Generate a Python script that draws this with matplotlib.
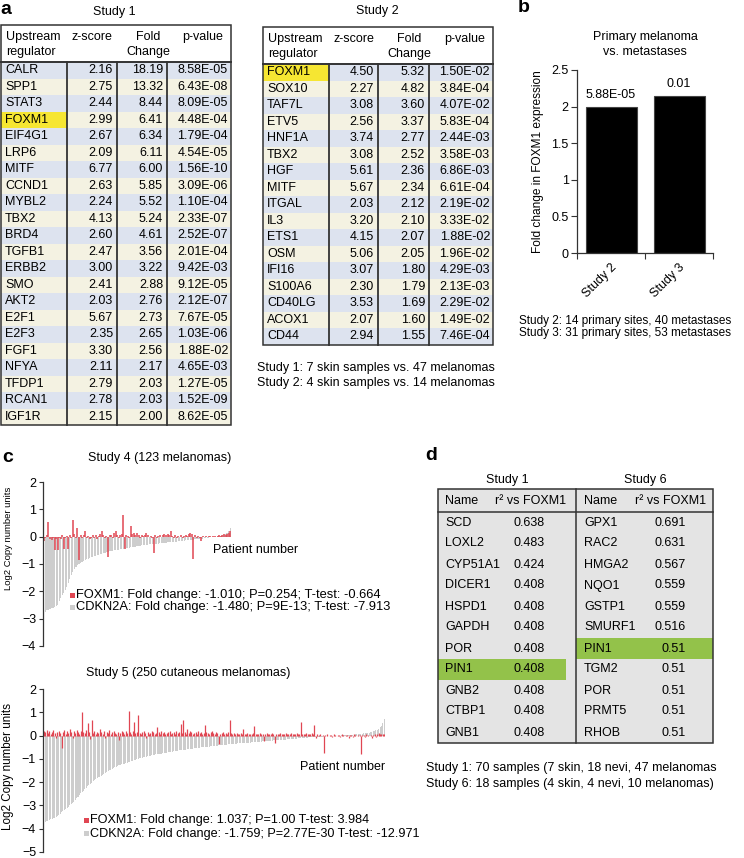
import matplotlib
matplotlib.use("Agg")
import matplotlib.pyplot as plt
from matplotlib.patches import Rectangle
import numpy as np

plt.rcParams['font.family'] = ['Liberation Sans', 'DejaVu Sans']
plt.rcParams['font.size'] = 9

# --- panel a: upstream regulators ---
study1_genes = ['CALR', 'SPP1', 'STAT3', 'FOXM1', 'EIF4G1', 'LRP6', 'MITF', 'CCND1', 'MYBL2', 'TBX2', 'BRD4',
                'TGFB1', 'ERBB2', 'SMO', 'AKT2', 'E2F1', 'E2F3', 'FGF1', 'NFYA', 'TFDP1', 'RCAN1', 'IGF1R']
study1_z = [2.16, 2.75, 2.44, 2.99, 2.67, 2.09, 6.77, 2.63, 2.24, 4.13, 2.60,
            2.47, 3.00, 2.41, 2.03, 5.67, 2.35, 3.30, 2.11, 2.79, 2.78, 2.15]
study1_fc = [18.19, 13.32, 8.44, 6.41, 6.34, 6.11, 6.00, 5.85, 5.52, 5.24, 4.61,
             3.56, 3.22, 2.88, 2.76, 2.73, 2.65, 2.56, 2.17, 2.03, 2.03, 2.00]
study1_p = ['8.58E-05', '6.43E-08', '8.09E-05', '4.48E-04', '1.79E-04', '4.54E-05', '1.56E-10', '3.09E-06',
            '1.10E-04', '2.33E-07', '2.52E-07', '2.01E-04', '9.42E-03', '9.12E-05', '2.12E-07', '7.67E-05',
            '1.03E-06', '1.88E-02', '4.65E-03', '1.27E-05', '1.52E-09', '8.62E-05']

study2_genes = ['FOXM1', 'SOX10', 'TAF7L', 'ETV5', 'HNF1A', 'TBX2', 'HGF', 'MITF', 'ITGAL', 'IL3', 'ETS1',
                'OSM', 'IFI16', 'S100A6', 'CD40LG', 'ACOX1', 'CD44']
study2_z = [4.50, 2.27, 3.08, 2.56, 3.74, 3.08, 5.61, 5.67, 2.03, 3.20, 4.15, 5.06, 3.07, 2.30, 3.53, 2.07, 2.94]
study2_fc = [5.32, 4.82, 3.60, 3.37, 2.77, 2.52, 2.36, 2.34, 2.12, 2.10, 2.07, 2.05, 1.80, 1.79, 1.69, 1.60, 1.55]
study2_p = ['1.50E-02', '3.84E-04', '4.07E-02', '5.83E-04', '2.44E-03', '3.58E-03', '6.86E-03', '6.61E-04',
            '2.19E-02', '3.33E-02', '1.88E-02', '1.96E-02', '4.29E-03', '2.13E-03', '2.29E-02', '1.49E-02',
            '7.46E-04']

# --- panel b ---
b_studies = ['Study 2', 'Study 3']
b_fold = [2.00, 2.15]
b_pvals = ['5.88E-05', '0.01']

# --- panel c: copy number (sorted by CDKN2A) ---
s4_cdkn2a = [-3.20, -2.75, -2.70, -2.68, -2.65, -2.62, -2.60, -2.58, -2.55, -2.50,
             -2.35, -2.25, -2.15, -2.05, -1.95, -1.85, -1.70, -1.55, -1.40, -1.28,
             -1.18, -1.10, -1.05, -1.00, -0.96, -0.92, -0.89, -0.86, -0.83, -0.80,
             -0.78, -0.76, -0.74, -0.72, -0.70, -0.68, -0.66, -0.64, -0.62, -0.60,
             -0.58, -0.56, -0.55, -0.54, -0.52, -0.51, -0.50, -0.49, -0.48, -0.47,
             -0.46, -0.45, -0.44, -0.43, -0.42, -0.41, -0.40, -0.39, -0.38, -0.37,
             -0.36, -0.35, -0.34, -0.33, -0.32, -0.31, -0.30, -0.30, -0.29, -0.28,
             -0.28, -0.27, -0.26, -0.26, -0.25, -0.25, -0.24, -0.23, -0.23, -0.22,
             -0.22, -0.21, -0.21, -0.20, -0.20, -0.19, -0.18, -0.18, -0.17, -0.17,
             -0.16, -0.16, -0.15, -0.14, -0.14, -0.13, -0.12, -0.12, -0.11, -0.10,
             -0.10, -0.09, -0.08, -0.08, -0.07, -0.06, -0.05, -0.05, -0.04, -0.03,
             -0.03, -0.02, -0.01, 0.00, 0.01, 0.02, 0.03, 0.05, 0.06, 0.08,
             0.12, 0.20, 0.30]
s4_foxm1 = [-0.15, -0.05, 0.05, 0.55, -0.08, -0.12, -0.05, -0.50, -0.10, -0.50,
            -0.05, -0.08, 0.05, -0.45, -0.05, 0.04, -0.45, 0.05, -0.06, 0.60,
            0.08, -0.05, 0.30, -0.85, 0.06, -0.04, 0.05, 0.20, -0.06, 0.04,
            -0.10, -0.05, 0.06, -0.04, 0.05, -0.08, 0.04, 0.08, 0.20, 0.05,
            -0.06, 0.04, -0.75, 0.06, 0.05, -0.05, 0.15, 0.20, 0.06, -0.04,
            0.05, 0.08, 0.80, -0.45, 0.06, 0.04, -0.05, 0.40, 0.08, 0.15,
            0.05, 0.12, 0.06, -0.04, 0.05, 0.03, 0.06, 0.15, 0.05, -0.03,
            0.04, -0.05, -0.60, 0.05, -0.04, 0.03, 0.05, -0.03, 0.06, 0.08,
            0.05, 0.10, 0.06, 0.22, 0.04, -0.05, 0.05, -0.06, 0.04, -0.03,
            0.05, -0.04, 0.03, 0.06, 0.04, 0.08, 0.15, 0.10, -0.80, 0.05,
            -0.04, 0.03, -0.05, -0.15, 0.03, -0.02, 0.02, -0.03, 0.02, 0.03,
            -0.02, 0.02, 0.03, -0.02, 0.04, 0.05, 0.03, 0.06, 0.10, 0.05,
            0.08, 0.15, 0.20]

s5_cdkn2a = [-3.75, -3.70, -3.68, -3.65, -3.62, -3.60, -3.58, -3.55, -3.52, -3.50,
             -3.45, -3.40, -3.35, -3.30, -3.25, -3.20, -3.15, -3.10, -3.05, -3.00,
             -2.95, -2.90, -2.85, -2.78, -2.70, -2.62, -2.55, -2.48, -2.42, -2.36,
             -2.30, -2.24, -2.18, -2.12, -2.07, -2.02, -1.97, -1.92, -1.88, -1.84,
             -1.80, -1.76, -1.72, -1.68, -1.64, -1.60, -1.56, -1.52, -1.49, -1.46,
             -1.43, -1.40, -1.37, -1.34, -1.31, -1.28, -1.26, -1.24, -1.22, -1.20,
             -1.18, -1.16, -1.14, -1.12, -1.10, -1.08, -1.06, -1.04, -1.02, -1.00,
             -0.98, -0.96, -0.95, -0.93, -0.92, -0.90, -0.89, -0.88, -0.86, -0.85,
             -0.84, -0.83, -0.81, -0.80, -0.79, -0.78, -0.77, -0.76, -0.75, -0.74,
             -0.73, -0.72, -0.71, -0.70, -0.69, -0.68, -0.67, -0.66, -0.65, -0.64,
             -0.63, -0.62, -0.61, -0.60, -0.60, -0.59, -0.58, -0.57, -0.56, -0.56,
             -0.55, -0.54, -0.53, -0.53, -0.52, -0.51, -0.50, -0.50, -0.49, -0.48,
             -0.48, -0.47, -0.46, -0.46, -0.45, -0.44, -0.44, -0.43, -0.42, -0.42,
             -0.41, -0.40, -0.40, -0.39, -0.39, -0.38, -0.37, -0.37, -0.36, -0.36,
             -0.35, -0.35, -0.34, -0.34, -0.33, -0.33, -0.32, -0.32, -0.31, -0.31,
             -0.30, -0.30, -0.29, -0.29, -0.28, -0.28, -0.27, -0.27, -0.26, -0.26,
             -0.25, -0.25, -0.24, -0.24, -0.23, -0.23, -0.22, -0.22, -0.21, -0.21,
             -0.20, -0.20, -0.19, -0.19, -0.18, -0.18, -0.17, -0.17, -0.16, -0.16,
             -0.15, -0.15, -0.14, -0.14, -0.13, -0.13, -0.12, -0.12, -0.11, -0.11,
             -0.10, -0.10, -0.09, -0.09, -0.08, -0.08, -0.07, -0.07, -0.06, -0.06,
             -0.05, -0.05, -0.05, -0.04, -0.04, -0.04, -0.03, -0.03, -0.03, -0.02,
             -0.02, -0.02, -0.01, -0.01, -0.01, 0.00, 0.00, 0.00, 0.01, 0.01,
             0.01, 0.02, 0.02, 0.02, 0.03, 0.03, 0.04, 0.04, 0.05, 0.05,
             0.06, 0.06, 0.07, 0.08, 0.09, 0.10, 0.11, 0.12, 0.13, 0.14,
             0.16, 0.18, 0.20, 0.23, 0.26, 0.30, 0.35, 0.42, 0.52, 0.70]
s5_foxm1 = [0.20, 0.15, 0.25, 0.10, 0.20, 0.05, 0.15, 0.25, 0.10, -0.10,
            0.15, 0.20, 0.10, -0.55, 0.15, 0.25, 0.05, 0.20, 0.10, 0.30,
            0.15, -0.10, 0.20, 0.10, 0.25, 0.15, 0.05, 0.20, 1.00, 0.15,
            0.10, 0.25, 0.55, 0.15, -0.15, 0.65, 0.10, 0.20, 0.05, 0.15,
            0.10, 0.30, 0.15, 0.05, 0.20, -0.10, 0.15, 0.10, 0.25, 0.05,
            0.15, 0.20, 0.10, 0.05, 0.15, -0.20, 0.10, 0.20, 0.15, 0.05,
            0.20, 0.10, 1.05, 0.15, 0.05, 0.20, 0.60, 0.10, 0.15, 0.90,
            0.10, 0.05, 0.15, 0.20, 0.10, -0.10, 0.15, 0.05, 0.10, 0.20,
            0.15, 0.05, 0.10, 0.35, 0.15, 0.05, 0.20, 0.10, 0.15, 0.05,
            0.10, 0.15, 0.20, 0.05, 0.10, 0.15, 0.05, 0.20, 0.10, 0.15,
            0.50, 0.10, 0.65, 0.15, 0.05, 0.30, 0.10, 0.20, 0.15, 0.05,
            0.10, 0.15, 0.05, 0.20, 0.10, 0.15, 0.05, 0.10, 0.45, 0.15,
            0.10, 0.05, 0.15, 0.20, 0.10, 0.05, 0.15, 0.10, -0.35, 0.05,
            0.10, 0.15, 0.05, 0.10, 0.05, 0.15, 0.65, 0.10, 0.05, 0.10,
            0.05, 0.10, 0.08, 0.05, 0.10, 0.05, 0.30, 0.08, 0.05, 0.10,
            0.05, 0.08, 0.05, 0.10, 0.40, 0.05, 0.08, 0.05, 0.10, 0.05,
            0.08, -0.25, 0.05, 0.10, 0.05, 0.08, 0.05, 0.10, 0.05, -0.30,
            0.05, 0.08, 0.05, 0.10, 0.05, 0.08, 0.05, 0.10, 0.05, 0.08,
            0.05, 0.10, 0.05, 0.08, 0.05, 0.10, 0.05, 0.08, 0.60, 0.05,
            0.08, 0.05, 0.10, 0.05, 0.08, 0.05, 0.10, 0.05, 0.45, -0.10,
            0.05, 0.03, 0.05, -0.03, 0.04, -0.75, 0.03, 0.05, -0.03, 0.04,
            0.03, -0.04, 0.05, 0.03, -0.03, 0.04, 0.03, -0.04, 0.05, 0.03,
            -0.03, 0.04, 0.03, -0.10, 0.04, 0.03, -0.04, 0.05, 0.03, -0.03,
            0.04, 0.03, -0.80, 0.04, 0.03, -0.04, 0.05, 0.03, -0.03, 0.04,
            -0.10, 0.03, 0.05, -0.04, 0.06, 0.10, 0.05, 0.08, 0.06, 0.05]

# --- panel d: correlation with FOXM1 ---
d1_genes = ['SCD', 'LOXL2', 'CYP51A1', 'DICER1', 'HSPD1', 'GAPDH', 'POR', 'PIN1', 'GNB2', 'CTBP1', 'GNB1']
d1_r2 = ['0.638', '0.483', '0.424', '0.408', '0.408', '0.408', '0.408', '0.408', '0.408', '0.408', '0.408']
d6_genes = ['GPX1', 'RAC2', 'HMGA2', 'NQO1', 'GSTP1', 'SMURF1', 'PIN1', 'TGM2', 'POR', 'PRMT5', 'RHOB']
d6_r2 = ['0.691', '0.631', '0.567', '0.559', '0.559', '0.516', '0.51', '0.51', '0.51', '0.51', '0.51']

W, H = 744, 858
fig = plt.figure(figsize=(W / 100, H / 100), dpi=100)

# background axes in pixel coordinates (y downwards), used for tables and text
bg = fig.add_axes([0, 0, 1, 1])
bg.set_xlim(0, W)
bg.set_ylim(H, 0)
bg.axis('off')


def px_axes(x0, y0, x1, y1):
    ax = fig.add_axes([x0 / W, 1 - y1 / H, (x1 - x0) / W, (y1 - y0) / H])
    ax.patch.set_alpha(0)
    return ax


BLUE = '#dde3ef'
CREAM = '#f4f2e2'
YELLOW = '#f6e632'
GREEN = '#93c24a'
LINE = '#333333'
FS = 9


def regulator_table(edges, top, head_bot, row_h, genes, z, fc, pv, hl):
    n = len(genes)
    bottom = head_bot + n * row_h
    for i in range(n):
        y = head_bot + i * row_h
        bg.add_patch(Rectangle((edges[0], y), edges[-1] - edges[0], row_h,
                               facecolor=BLUE if i % 2 == 0 else CREAM, lw=0))
        if i == hl:
            bg.add_patch(Rectangle((edges[0], y), edges[1] - edges[0], row_h, facecolor=YELLOW, lw=0))
        yc = y + row_h / 2
        bg.text(edges[0] + 4, yc, genes[i], ha='left', va='center', fontsize=FS)
        bg.text(edges[2] - 4, yc, f'{z[i]:.2f}', ha='right', va='center', fontsize=FS)
        bg.text(edges[3] - 4, yc, f'{fc[i]:.2f}', ha='right', va='center', fontsize=FS)
        bg.text(edges[4] - 3, yc, pv[i], ha='right', va='center', fontsize=FS)
    # header
    bg.text(edges[0] + 5, top + 12, 'Upstream', ha='left', va='center', fontsize=FS)
    bg.text(edges[0] + 5, top + 27, 'regulator', ha='left', va='center', fontsize=FS)
    bg.text((edges[1] + edges[2]) / 2, top + 12, 'z-score', ha='center', va='center', fontsize=FS)
    bg.text((edges[2] + edges[3]) / 2 + 6, top + 12, 'Fold', ha='center', va='center', fontsize=FS)
    bg.text((edges[2] + edges[3]) / 2 + 6, top + 27, 'Change', ha='center', va='center', fontsize=FS)
    bg.text((edges[3] + edges[4]) / 2 + 4, top + 12, 'p-value', ha='center', va='center', fontsize=FS)
    # lines
    bg.add_patch(Rectangle((edges[0], top), edges[-1] - edges[0], bottom - top,
                           facecolor='none', edgecolor=LINE, lw=1.1))
    bg.plot([edges[0], edges[-1]], [head_bot, head_bot], color=LINE, lw=1.4)
    for x in edges[1:-1]:
        bg.plot([x, x], [head_bot, bottom], color=LINE, lw=1.3)


bg.text(0, 9, 'a', fontsize=14, fontweight='bold', ha='left', va='center')
bg.text(114, 12, 'Study 1', ha='center', va='center', fontsize=FS)
regulator_table([1, 67, 117, 167, 231], 25, 62, 16.5, study1_genes, study1_z, study1_fc, study1_p, 3)
bg.text(377, 11, 'Study 2', ha='center', va='center', fontsize=FS)
regulator_table([263, 329, 378, 429, 493], 27, 64, 16.5, study2_genes, study2_z, study2_fc, study2_p, 0)
bg.text(257, 368, 'Study 1: 7 skin samples vs. 47 melanomas', ha='left', va='center', fontsize=FS)
bg.text(257, 383, 'Study 2: 4 skin samples vs. 14 melanomas', ha='left', va='center', fontsize=FS)

# --- panel b ---
bg.text(518, 8, 'b', fontsize=14, fontweight='bold', ha='left', va='center')
bg.text(645, 37, 'Primary melanoma', ha='center', va='center', fontsize=FS)
bg.text(645, 52, 'vs. metastases', ha='center', va='center', fontsize=FS)
axb = px_axes(577, 70, 713, 253)
xb = np.arange(len(b_studies))
axb.bar(xb, b_fold, width=0.75, color='black', edgecolor='#444444', lw=0.8)
for xi, v, p in zip(xb, b_fold, b_pvals):
    axb.text(xi, v + 0.07, p, ha='center', va='bottom', fontsize=FS)
axb.set_xlim(-0.5, 1.5)
axb.set_ylim(0, 2.5)
axb.set_yticks([0, 0.5, 1, 1.5, 2, 2.5])
axb.set_yticklabels(['0', '0.5', '1', '1.5', '2', '2.5'], fontsize=FS)
axb.set_xticks(xb)
axb.set_xticklabels(b_studies, rotation=45, ha='right', va='top', rotation_mode='anchor', fontsize=FS)
axb.set_xticks([-0.5, 0.5, 1.5], minor=True)
axb.tick_params(axis='x', which='major', length=0, pad=6)
axb.tick_params(axis='x', which='minor', length=4, width=0.8, color=LINE)
axb.tick_params(axis='y', length=4, width=0.8, color=LINE, pad=2)
for s in ['top', 'right']:
    axb.spines[s].set_visible(False)
for s in ['left', 'bottom']:
    axb.spines[s].set_color(LINE)
    axb.spines[s].set_linewidth(0.9)
axb.set_ylabel('Fold change in FOXM1 expression', fontsize=8.6, labelpad=5)
bg.text(519, 321, 'Study 2: 14 primary sites, 40 metastases', ha='left', va='center', fontsize=8.5)
bg.text(519, 333, 'Study 3: 31 primary sites, 53 metastases', ha='left', va='center', fontsize=8.5)

# --- panel c ---
GRAY = '#cdcdcd'
RED = '#e04652'


def cn_plot(box, cdkn2a, foxm1, ylim, red_lw):
    ax = px_axes(*box)
    xs = np.arange(len(cdkn2a))
    ax.bar(xs, cdkn2a, width=0.75, color=GRAY, lw=0, zorder=1)
    ax.vlines(xs, 0, foxm1, color=RED, lw=red_lw, zorder=2)
    ax.set_xlim(-0.6, len(cdkn2a) - 0.4)
    ax.set_ylim(*ylim)
    ax.set_yticks(range(ylim[0], ylim[1] + 1))
    ax.tick_params(axis='y', length=3, width=0.8, color=LINE, labelsize=FS, pad=2)
    ax.set_xticks([])
    for s in ['top', 'right', 'bottom']:
        ax.spines[s].set_visible(False)
    ax.spines['left'].set_color(LINE)
    ax.spines['left'].set_linewidth(0.9)
    return ax


bg.text(2, 458, 'c', fontsize=14, fontweight='bold', ha='left', va='center')
bg.text(160, 458, 'Study 4 (123 melanomas)', ha='center', va='center', fontsize=FS)
cn_plot((43, 482, 231, 646), s4_cdkn2a, s4_foxm1, (-4, 2), 1.1)
bg.text(9, 538, 'Log2 Copy number units', rotation=90, ha='center', va='center', fontsize=6.8)
bg.text(213, 550, 'Patient number', ha='left', va='center', fontsize=FS)
bg.add_patch(Rectangle((70, 593), 5, 5, facecolor=RED, lw=0))
bg.text(76, 595, 'FOXM1: Fold change: -1.010; P=0.254; T-test: -0.664', ha='left', va='center', fontsize=9.3)
bg.add_patch(Rectangle((70, 605), 5, 5, facecolor=GRAY, lw=0))
bg.text(76, 607, 'CDKN2A: Fold change: -1.480; P=9E-13; T-test: -7.913', ha='left', va='center', fontsize=9.3)

bg.text(188, 673, 'Study 5 (250 cutaneous melanomas)', ha='center', va='center', fontsize=FS)
cn_plot((43, 689, 385, 852), s5_cdkn2a, s5_foxm1, (-5, 2), 0.9)
bg.text(8, 766, 'Log2 Copy number units', rotation=90, ha='center', va='center', fontsize=8.4)
bg.text(300, 767, 'Patient number', ha='left', va='center', fontsize=FS)
bg.add_patch(Rectangle((84, 818), 5, 5, facecolor=RED, lw=0))
bg.text(90, 820, 'FOXM1: Fold change: 1.037; P=1.00 T-test: 3.984', ha='left', va='center', fontsize=9.1)
bg.add_patch(Rectangle((84, 831), 5, 5, facecolor=GRAY, lw=0))
bg.text(90, 834, 'CDKN2A: Fold change: -1.759; P=2.77E-30 T-test: -12.971', ha='left', va='center', fontsize=9.1)

# --- panel d ---
bg.text(425, 456, 'd', fontsize=14, fontweight='bold', ha='left', va='center')
d_top, d_head, d_row = 489, 512, 21
d_left, d_mid, d_right = 438, 576, 713
d_bottom = d_head + len(d1_genes) * d_row
bg.add_patch(Rectangle((d_left, d_top), d_right - d_left, d_bottom - d_top, facecolor='#e4e4e4', lw=0))
for i in range(len(d1_genes)):
    yc = d_head + (i + 0.5) * d_row
    if d1_genes[i] == 'PIN1':
        bg.add_patch(Rectangle((d_left, d_head + i * d_row), 128, d_row, facecolor=GREEN, lw=0))
    if d6_genes[i] == 'PIN1':
        bg.add_patch(Rectangle((d_mid, d_head + i * d_row), d_right - d_mid, d_row, facecolor=GREEN, lw=0))
    bg.text(d_left + 7, yc, d1_genes[i], ha='left', va='center', fontsize=FS)
    bg.text(545, yc, d1_r2[i], ha='right', va='center', fontsize=FS)
    bg.text(d_mid + 8, yc, d6_genes[i], ha='left', va='center', fontsize=FS)
    bg.text(686, yc, d6_r2[i], ha='right', va='center', fontsize=FS)
hy = (d_top + d_head) / 2 + 1
bg.text(d_left + 7, hy, 'Name', ha='left', va='center', fontsize=FS)
bg.text(566, hy, 'r² vs FOXM1', ha='right', va='center', fontsize=FS)
bg.text(d_mid + 8, hy, 'Name', ha='left', va='center', fontsize=FS)
bg.text(706, hy, 'r² vs FOXM1', ha='right', va='center', fontsize=FS)
bg.add_patch(Rectangle((d_left, d_top), d_right - d_left, d_bottom - d_top, facecolor='none',
                       edgecolor=LINE, lw=1.1))
bg.plot([d_left, d_right], [d_head, d_head], color=LINE, lw=1.1)
bg.plot([d_mid, d_mid], [d_top, d_bottom], color=LINE, lw=1.1)
bg.text(507, 480, 'Study 1', ha='center', va='center', fontsize=FS)
bg.text(645, 480, 'Study 6', ha='center', va='center', fontsize=FS)
bg.text(426, 768, 'Study 1: 70 samples (7 skin, 18 nevi, 47 melanomas', ha='left', va='center', fontsize=FS)
bg.text(426, 784, 'Study 6: 18 samples (4 skin, 4 nevi, 10 melanomas)', ha='left', va='center', fontsize=FS)

fig.savefig('out.png', dpi=100)
